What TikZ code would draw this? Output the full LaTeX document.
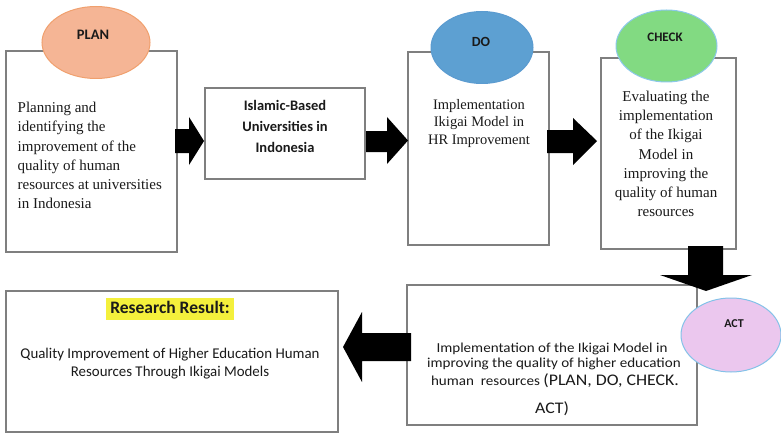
\documentclass[tikz,border=0pt]{standalone}
\usepackage{fontspec}
\setmainfont{Liberation Serif}
\newfontfamily\calfont{Carlito}
\newfontfamily\calwide[FakeStretch=1.1]{Carlito}
\usetikzlibrary{shapes.geometric}
\definecolor{boxgray}{HTML}{7F7F7F}
\definecolor{planfill}{HTML}{F5B595}
\definecolor{planline}{HTML}{F0A06E}
\definecolor{dofill}{HTML}{5DA0D2}
\definecolor{doline}{HTML}{5B9BD0}
\definecolor{chkfill}{HTML}{82DA82}
\definecolor{chkline}{HTML}{8CC8EA}
\definecolor{actfill}{HTML}{EBC7EE}
\definecolor{actline}{HTML}{84C2E8}
\definecolor{hlyellow}{HTML}{F4F03C}
\definecolor{txt}{HTML}{1A1A1A}
\begin{document}
\begin{tikzpicture}[x=1pt,y=-1pt,
  box/.style={draw=boxgray, line width=1.1pt, fill=white, inner sep=0pt},
  oval/.style={ellipse, inner sep=0pt, line width=1pt},
  lab/.style={font=\calfont\bfseries, text=txt, inner sep=0pt},
  serif/.style={text=txt, inner sep=0pt, align=center},
  blockarrow/.style={fill=black}]
\useasboundingbox (0,0) rectangle (781,433);

% boxes
\node[box, minimum width=171, minimum height=201] (planbox) at (91.5,151.5) {};
\node[box, minimum width=160, minimum height=91] (islbox) at (285,133.5) {};
\node[box, minimum width=141, minimum height=193] (dobox) at (478.5,148.5) {};
\node[box, minimum width=135, minimum height=191] (chkbox) at (668.5,153.5) {};
\node[box, minimum width=290, minimum height=140] (actbox) at (552,355) {};
\node[box, minimum width=332, minimum height=141] (resbox) at (172,361.5) {};

% block arrows
\fill[blockarrow] (175,129) -- (189,129) -- (189,117) -- (204,141) -- (189,165) -- (189,153) -- (175,153) -- cycle;
\fill[blockarrow] (366,131) -- (387,131) -- (387,117) -- (408,140.5) -- (387,164) -- (387,152) -- (366,152) -- cycle;
\fill[blockarrow] (547,130) -- (573,130) -- (573,118) -- (597,141) -- (573,165) -- (573,153) -- (547,153) -- cycle;
\fill[blockarrow] (688,246) -- (723,246) -- (723,275) -- (752,275) -- (706,291) -- (660,275) -- (688,275) -- cycle;
\fill[blockarrow] (411,333) -- (362,333) -- (362,312) -- (343,347) -- (362,382) -- (362,361) -- (411,361) -- cycle;

% ovals
\node[oval, fill=planfill, draw=planline, minimum width=108, minimum height=72] (planell) at (96,42.5) {};
\node[oval, fill=dofill, draw=doline, minimum width=102, minimum height=72] (doell) at (482,47.5) {};
\node[oval, fill=chkfill, draw=chkline, minimum width=101, minimum height=72] (chkell) at (666.5,46) {};
\node[oval, fill=actfill, draw=actline, minimum width=100, minimum height=74] (actell) at (731,335) {};

\node[lab, font=\calfont\bfseries\fontsize{14.5}{16}\selectfont] (plan) at (93,35) {PLAN};
\node[lab, font=\calfont\bfseries\fontsize{14}{16}\selectfont] (do) at (481,42) {DO};
\node[lab, font=\calfont\bfseries\fontsize{13}{15}\selectfont] (check) at (665,37) {CHECK};
\node[lab, font=\calfont\bfseries\fontsize{12}{14}\selectfont] (act) at (734,324) {ACT};

% texts
\node[serif, anchor=west, align=left, font=\fontsize{15}{19.2}\selectfont] (plantext) at (17.5,155.5)
  {Planning and\\identifying the\\improvement of the\\quality of human\\resources at universities\\in Indonesia};
\node[serif, font=\calfont\bfseries\fontsize{14.5}{21}\selectfont] (isltext) at (285,126)
  {Islamic-Based\\Universities in\\Indonesia};
\node[serif, font=\fontsize{14.5}{17.5}\selectfont] (dotext) at (479,123.5)
  {Implementation\\Ikigai Model in\\HR Improvement};
\node[serif, font=\fontsize{15}{19.2}\selectfont] (chktext) at (666,154)
  {Evaluating the\\implementation\\of the Ikigai\\Model in\\improving the\\quality of human\\resources};

\node[serif, anchor=base, font=\calwide\fontsize{13.7}{15}\selectfont] (act1) at (552,352.5)
  {Implementation of the Ikigai Model in};
\node[serif, anchor=base, font=\calwide\fontsize{13.7}{15}\selectfont] (act2) at (554,367.5)
  {improving the quality of higher education};
\node[serif, anchor=base, font=\calwide\fontsize{13.7}{15}\selectfont] (act3) at (555,385)
  {human\ \ resources {\fontsize{16.2}{18}\selectfont (PLAN, DO, CHECK.}};
\node[serif, anchor=base, font=\calwide\fontsize{16.2}{18}\selectfont] (act4) at (552,413.5)
  {ACT)};

\node[fill=hlyellow, text=txt, font=\calfont\bfseries\fontsize{17.5}{20}\selectfont,
  inner xsep=4pt, inner ysep=2.5pt, text height=13pt, text depth=4pt] (restitle) at (170,309)
  {Research Result:};
\node[serif, font=\calfont\fontsize{14.9}{18}\selectfont] (restext) at (170,363.5)
  {Quality Improvement of Higher Education Human\\Resources Through Ikigai Models};
\end{tikzpicture}
\end{document}
